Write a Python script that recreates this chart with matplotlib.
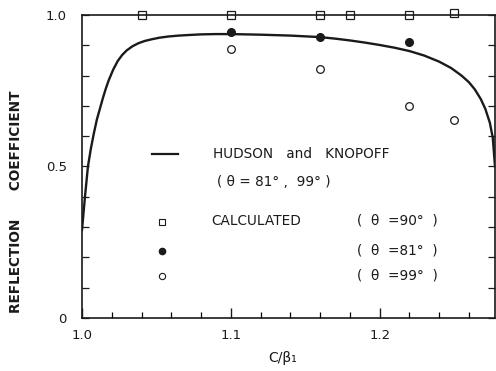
import matplotlib.pyplot as plt
import numpy as np

# Hudson & Knopoff curve (theta = 81, 99 deg)
curve_x = [1.0, 1.002, 1.004, 1.006, 1.008, 1.010, 1.012, 1.014, 1.016, 1.018,
           1.021, 1.024, 1.027, 1.030, 1.034, 1.038, 1.042, 1.047, 1.052, 1.058,
           1.065, 1.072, 1.08, 1.09, 1.1, 1.12, 1.14, 1.16, 1.17, 1.18,
           1.19, 1.2, 1.21, 1.22, 1.23, 1.24, 1.248, 1.255, 1.26, 1.264,
           1.268, 1.271, 1.274, 1.276, 1.2775]
curve_y = [0.29, 0.40, 0.50, 0.56, 0.61, 0.655, 0.69, 0.725, 0.757, 0.785,
           0.82, 0.848, 0.868, 0.883, 0.897, 0.907, 0.914, 0.920, 0.925, 0.929,
           0.932, 0.934, 0.936, 0.937, 0.937, 0.935, 0.932, 0.927, 0.922, 0.916,
           0.909, 0.901, 0.892, 0.881, 0.866, 0.846, 0.825, 0.800, 0.778, 0.754,
           0.722, 0.690, 0.645, 0.595, 0.50]

# calculated points
x90 = [1.04, 1.10, 1.16, 1.18, 1.22, 1.25]
y90 = [1.0, 1.0, 1.0, 1.0, 1.0, 1.005]
x81 = [1.10, 1.16, 1.22]
y81 = [0.944, 0.927, 0.911]
x99 = [1.10, 1.16, 1.22, 1.25]
y99 = [0.888, 0.822, 0.70, 0.653]

ink = '#1a1a1a'
fig = plt.figure(figsize=(4.96, 3.71), dpi=100)
ax = fig.add_axes([0.1653, 0.1429, 0.8327, 0.8167])

ax.plot(curve_x, curve_y, color=ink, lw=1.7, solid_joinstyle='round')
ax.plot(x90, y90, 's', ms=5.5, mfc='white', mec=ink, mew=0.9, clip_on=False)
ax.plot(x81, y81, 'o', ms=5.5, mfc=ink, mec=ink, clip_on=False)
ax.plot(x99, y99, 'o', ms=5.5, mfc='white', mec=ink, mew=0.9, clip_on=False)

ax.set_xlim(1.0, 1.2775)
ax.set_ylim(0, 1.0)

ax.set_xticks([1.0, 1.1, 1.2])
ax.set_xticklabels(['1.0', '1.1', '1.2'])
ax.set_xticks(np.arange(1.02, 1.27, 0.02), minor=True)
ax.set_yticks([0, 0.5, 1.0])
ax.set_yticklabels(['0', '0.5', '1.0'])
ax.set_yticks([0.1, 0.2, 0.3, 0.4, 0.6, 0.7, 0.8, 0.9], minor=True)
ax.tick_params(axis='x', which='major', direction='in', length=7, width=1, pad=8,
               labelsize=9.5, colors=ink)
ax.tick_params(axis='x', which='minor', direction='in', length=4, width=0.9)
ax.tick_params(axis='y', which='both', direction='in', length=5, width=0.9,
               right=True, pad=11, labelsize=9.5, colors=ink)
for s in ax.spines.values():
    s.set_linewidth(1.2)
    s.set_color(ink)

# legend, drawn as text in data space
fs = 9.8
ax.plot([1.047, 1.0644], [0.541, 0.541], color=ink, lw=1.6)
ax.text(1.088, 0.541, 'HUDSON   and   KNOPOFF', va='center', fontsize=fs, color=ink)
ax.text(1.091, 0.448, '( θ = 81° ,  99° )', va='center', fontsize=fs, color=ink)
ax.plot([1.054], [0.317], 's', ms=4.5, mfc='white', mec=ink, mew=0.8)
ax.text(1.087, 0.319, 'CALCULATED', va='center', fontsize=fs, color=ink)
ax.text(1.1846, 0.321, '(  θ  =90°  )', va='center', fontsize=fs, color=ink)
ax.plot([1.054], [0.221], 'o', ms=4.5, mfc=ink, mec=ink)
ax.text(1.1846, 0.223, '(  θ  =81°  )', va='center', fontsize=fs, color=ink)
ax.plot([1.054], [0.139], 'o', ms=4.5, mfc='white', mec=ink, mew=0.8)
ax.text(1.1846, 0.139, '(  θ  =99°  )', va='center', fontsize=fs, color=ink)

fig.text(0.032, 0.457, 'REFLECTION      COEFFICIENT', rotation=90, ha='center',
         va='center', fontsize=9.8, fontweight='bold', color=ink)
fig.text(0.57, 0.035, 'C/β₁', ha='center', va='center', fontsize=10, color=ink)

fig.savefig('out.png', dpi=100)
